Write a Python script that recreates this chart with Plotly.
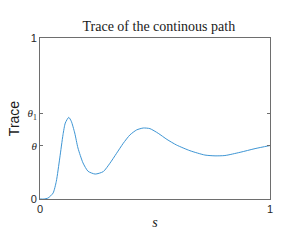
import plotly.graph_objects as go

s_vals = [0.0, 0.017, 0.035, 0.057, 0.071, 0.086, 0.100, 0.110, 0.125, 0.136, 0.151, 0.165,
          0.187, 0.209, 0.240, 0.275, 0.304, 0.333, 0.362, 0.391, 0.420, 0.449, 0.478, 0.514,
          0.552, 0.594, 0.652, 0.717, 0.761, 0.804, 0.870, 0.935, 1.0]
trace_vals = [0.0, 0.0, 0.006, 0.037, 0.110, 0.255, 0.399, 0.472, 0.507, 0.483, 0.410, 0.317,
              0.224, 0.172, 0.155, 0.170, 0.222, 0.284, 0.346, 0.398, 0.429, 0.441, 0.437, 0.408,
              0.370, 0.335, 0.300, 0.273, 0.268, 0.270, 0.290, 0.313, 0.332]

theta = 0.331
theta1 = 0.532
y_tickvals = [0, theta, theta1, 1]
serif = "Liberation Serif"
y_ticktext = ["0",
              f"<span style='font-family:{serif}'><i>θ</i></span>",
              f"<span style='font-family:{serif}'><i>θ</i><sub>1</sub></span>",
              "1"]
x_tickvals = [0, 1]
x_ticktext = ["0", "1"]

fig = go.Figure()
fig.add_trace(go.Scatter(x=s_vals, y=trace_vals, mode="lines",
                         line=dict(color="#3d95d4", width=1, shape="spline", smoothing=0.6),
                         showlegend=False, hoverinfo="skip"))

axis_common = dict(showgrid=False, zeroline=False, showline=True, mirror="ticks",
                   linecolor="#6e6e6e", linewidth=1, ticks="inside", ticklen=3,
                   tickcolor="#6e6e6e", automargin=False,
                   tickfont=dict(family="Liberation Sans", size=11, color="#262626"))

fig.update_layout(
    width=300, height=250,
    margin=dict(l=40, r=30, t=38, b=51),
    paper_bgcolor="white", plot_bgcolor="white",
    title=dict(text="Trace of the continous path", x=(40 + 270) / 2 / 300, xanchor="center", xref="paper",
               y=1 - 26 / 250, yanchor="middle",
               font=dict(family=serif, size=14, color="#1a1a1a")),
    xaxis=dict(range=[0, 1], tickvals=x_tickvals, ticktext=x_ticktext,
               title=dict(text="<i>s</i>", font=dict(family=serif, size=14, color="#1a1a1a"), standoff=2),
               **axis_common),
    yaxis=dict(range=[0, 1], tickvals=y_tickvals, ticktext=y_ticktext,
               title=dict(text="Trace", font=dict(family="Liberation Sans", size=14, color="#1a1a1a"), standoff=4),
               **axis_common),
)

fig.write_html("out.html", post_script="document.body.style.margin='0px';",
               config={"displayModeBar": False})
